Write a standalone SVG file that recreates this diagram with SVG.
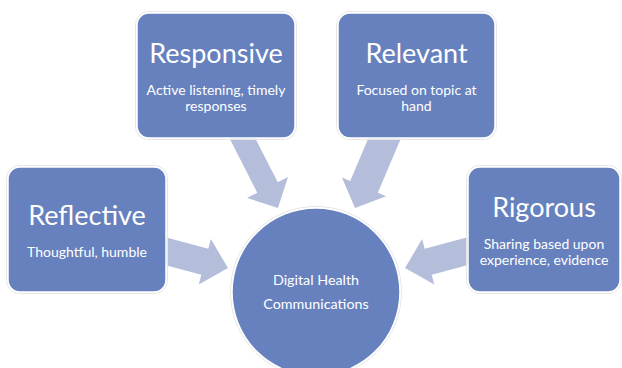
<svg xmlns="http://www.w3.org/2000/svg" width="622" height="368" viewBox="0 0 622 368">
<style>
.arrow{fill:#b4bedb}
.box{fill:#6681bd;stroke:#ffffff;stroke-width:1.5}
.halo{fill:none;stroke:#e6e6e6;stroke-width:1}
.title{font-family:Lato,"Open Sans",sans-serif;font-size:27px;fill:#ffffff;text-anchor:middle}
.sub{font-family:Lato,"Open Sans",sans-serif;font-size:14px;fill:#ffffff;text-anchor:middle}
.hub{font-family:Lato,"Open Sans",sans-serif;font-size:14.3px;fill:#ffffff;text-anchor:middle}
</style>
<rect width="622" height="368" fill="#ffffff"/>
<g id="connectors">
<polygon class="arrow" transform="translate(150.7,247.3) rotate(15)" points="0,-13.5 56,-13.5 56,-23.5 80,0 56,23.5 56,13.5 0,13.5"/>
<polygon class="arrow" transform="translate(482.3,247.3) rotate(165)" points="0,-13.5 56,-13.5 56,-23.5 80,0 56,23.5 56,13.5 0,13.5"/>
<polygon class="arrow" transform="translate(237.1,127.8) rotate(63)" points="0,-11.5 67,-11.5 67,-23 90,0 67,23 67,11.5 0,11.5"/>
<polygon class="arrow" transform="translate(390.2,125.1) rotate(113)" points="0,-15 67,-15 67,-24 90,0 67,24 67,15 0,15"/>
</g>
<g id="responsive">
<rect class="halo" x="135.5" y="11.5" width="161" height="128" rx="13"/>
<rect class="box" x="137" y="13" width="158" height="125" rx="12"/>
<text class="title" x="216" y="63">Responsive</text>
<text class="sub" x="216" y="95">Active listening, timely</text>
<text class="sub" x="216" y="111">responses</text>
</g>
<g id="relevant">
<rect class="halo" x="336.5" y="11.5" width="160" height="128" rx="13"/>
<rect class="box" x="338" y="13" width="157" height="125" rx="12"/>
<text class="title" x="416.5" y="63">Relevant</text>
<text class="sub" x="416.5" y="95">Focused on topic at</text>
<text class="sub" x="416.5" y="111">hand</text>
</g>
<g id="reflective">
<rect class="halo" x="6.5" y="165.5" width="161" height="128" rx="13"/>
<rect class="box" x="8" y="167" width="158" height="125" rx="12"/>
<text class="title" x="87" y="225">Reflective</text>
<text class="sub" x="87" y="257">Thoughtful, humble</text>
</g>
<g id="rigorous">
<rect class="halo" x="466.5" y="165.5" width="155" height="128" rx="13"/>
<rect class="box" x="468" y="167" width="152" height="125" rx="12"/>
<text class="title" x="544" y="217">Rigorous</text>
<text class="sub" x="544" y="249">Sharing based upon</text>
<text class="sub" x="544" y="265">experience, evidence</text>
</g>
<g id="hub">
<circle class="halo" cx="316" cy="292" r="85.5"/>
<circle class="box" cx="316" cy="292" r="84"/>
<text class="hub" x="316" y="285">Digital Health</text>
<text class="hub" x="316" y="309">Communications</text>
</g>
</svg>
